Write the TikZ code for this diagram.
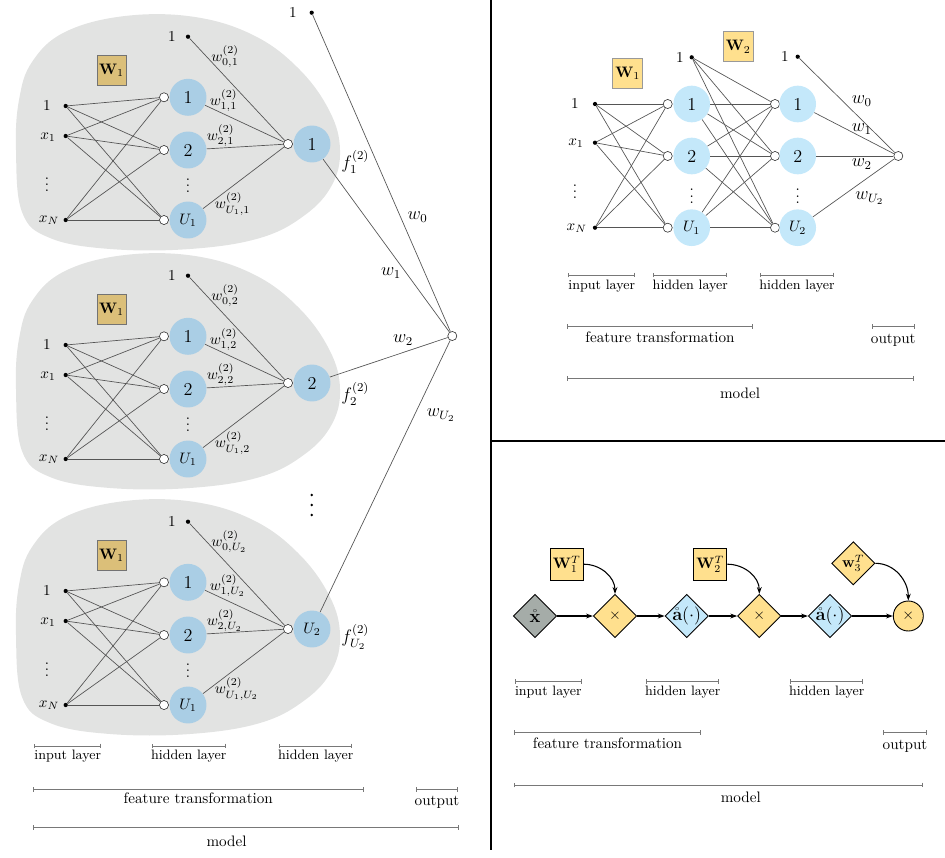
\documentclass[tikz,border=0pt]{standalone}
\usepackage{amsmath}
\usetikzlibrary{shapes.geometric,arrows.meta}
\definecolor{blobgray}{RGB}{226,227,226}
\definecolor{blueL}{RGB}{170,206,229}
\definecolor{blueTR}{RGB}{196,232,250}
\definecolor{tanW}{RGB}{219,191,121}
\definecolor{yelW}{RGB}{255,224,142}
\definecolor{grayD}{RGB}{165,172,168}
\definecolor{edgec}{RGB}{85,85,85}
\definecolor{bracketc}{RGB}{120,120,120}

\newcommand\nnblob[6]{%
\begin{scope}[shift={(0,#2)}]
 \fill[blobgray] plot[smooth cycle,tension=0.65] coordinates {(16,150) (19,100) (32,62) (65,32) (125,16) (195,17) (255,36) (300,70) (330,112) (340,150) (332,185) (305,215) (260,238) (190,249) (110,249) (50,238) (22,212)};
 \node[dotn] (#1i1) at (65.7,106) {};
 \node[dotn] (#1i2) at (65.7,136) {};
 \node[dotn] (#1i3) at (65.7,220) {};
 \node (#1l1) at (47,106) {$1$};
 \node (#1l2) at (48,137) {$x_1$};
 \node (#1l3) at (47,180) {$\vdots$};
 \node (#1l4) at (49,220) {$x_N$};
 \node[wboxL] (#1W) at (111.5,70) {$\mathbf{W}_1$};
 \node[ocirc] (#1h1) at (164,97.3) {};
 \node[ocirc] (#1h2) at (164,150) {};
 \node[ocirc] (#1h3) at (164,220) {};
 \node[bnode,font=\large] (#1b1) at (188,97.3) {1};
 \node[bnode,font=\large] (#1b2) at (188,150) {2};
 \node[bnode] (#1b3) at (188,220) {$U_1$};
 \node (#1hd) at (188,181) {$\vdots$};
 \node[dotn] (#1bias) at (188,36.7) {};
 \node (#1bl) at (172,37) {$1$};
 \node[ocirc] (#1o) at (288,144) {};
 \node[bnode] (#1out) at (312,144) {#3};
 \foreach \a in {1,2,3} {\foreach \b in {1,2,3} {\draw[edge] (#1i\a) -- (#1h\b);}}
 \draw[edge] (#1bias) -- (#1o);
 \foreach \a in {1,2,3} {\draw[edge] (#1b\a) -- (#1o);}
 \node[wl] (#1w0) at (211,56.5) {$w^{(2)}_{0,#4}$};
 \node[wl] (#1w1) at (209.5,100.5) {$w^{(2)}_{1,#4}$};
 \node[wl] (#1w2) at (206.5,135.5) {$w^{(2)}_{2,#4}$};
 \node[wl] (#1w3) at (214.5,204) {$w^{(2)}_{U_1,#4}$};
 \node[wl,font=\large] (#1f) at (341,144+#5) {$f^{(2)}_{#6}$};
\end{scope}}

\begin{document}
\begin{tikzpicture}[x=0.66pt,y=-0.66pt,
  dotn/.style={circle,fill=black,inner sep=0pt,minimum size=2.8pt},
  ocirc/.style={circle,draw=black!80,fill=white,inner sep=0pt,minimum size=6pt,line width=0.4pt},
  bnode/.style={circle,fill=blueL,inner sep=0pt,minimum size=24.4pt},
  trnode/.style={circle,fill=blueTR,inner sep=0pt,minimum size=24.2pt},
  edge/.style={draw=edgec,line width=0.45pt},
  wl/.style={anchor=west,inner sep=0pt},
  wboxL/.style={draw=black!55,fill=tanW,minimum width=19pt,minimum height=19.8pt,inner sep=0.5pt},
  wboxT/.style={draw=black!40,fill=yelW,minimum width=19.8pt,minimum height=19.8pt,inner sep=0.5pt},
  bbox/.style={draw=black,fill=yelW,minimum width=21.8pt,minimum height=21.1pt,inner sep=0.5pt,line width=0.6pt},
  dmd/.style={diamond,aspect=1,draw=black,line width=0.6pt,inner sep=0pt,minimum size=28.6pt},
  arr/.style={-{Stealth[length=4.5pt,width=3.2pt]},line width=0.7pt},
  brk/.style={draw=bracketc,line width=0.55pt,arrows={Bar[width=3pt]-Bar[width=3pt]}},
  lyr/.style={font=\small,inner sep=0pt},
  lbl/.style={inner sep=0pt},
  frame/.style={line width=1.1pt},
]
\useasboundingbox (0,0) rectangle (945,857);

% ---------------- left panel ----------------
\nnblob{A}{0}{\large 1}{1}{18}{1}
\nnblob{B}{239}{\large 2}{2}{11}{2}
\nnblob{C}{485}{$U_2$}{U_2}{8}{U_2}

\node[dotn] (obias) at (311.7,12.7) {};
\node (obl) at (293,12.7) {$1$};
\node[ocirc] (oout) at (452.3,336) {};
\draw[edge] (obias) -- (oout);
\draw[edge] (Aout) -- (oout);
\draw[edge] (Bout) -- (oout);
\draw[edge] (Cout) -- (oout);
\node[font=\large] (ow0) at (417.5,217) {$w_0$};
\node[font=\large] (ow1) at (391,273) {$w_1$};
\node[font=\large] (ow2) at (403,340) {$w_2$};
\node[font=\large] (ow3) at (441,415) {$w_{U_2}$};
\fill (311.7,495) circle[radius=1.4];
\fill (311.7,505) circle[radius=1.4];
\fill (311.7,515) circle[radius=1.4];

\draw[brk] (34.3,746) -- (101,746);
\draw[brk] (151.7,746) -- (225.7,746);
\draw[brk] (279,746) -- (352.3,746);
\draw[brk] (32.7,789.3) -- (364,789.3);
\draw[brk] (415.7,789.3) -- (458.3,789.3);
\draw[brk] (33.3,827.3) -- (458.7,827.3);
\node[lyr] (L1) at (67.7,756.5) {input layer};
\node[lyr] (L2) at (188.7,756.5) {hidden layer};
\node[lyr] (L3) at (315.7,756.5) {hidden layer};
\node[lbl] (L4) at (198.3,798.3) {feature transformation};
\node[lbl] (L5) at (437,802.3) {output};
\node[lbl] (L6) at (226.5,841.3) {model};

% ---------------- frame ----------------
\draw[frame] (491,0) -- (491,850);
\draw[frame] (491,441) -- (945,441);

% ---------------- top right panel ----------------
\node[dotn] (ti1) at (595,104) {};
\node[dotn] (ti2) at (595,142.7) {};
\node[dotn] (ti3) at (595,227.7) {};
\node (tl1) at (575,104) {$1$};
\node (tl2) at (576,143) {$x_1$};
\node (tl3) at (575,187) {$\vdots$};
\node (tl4) at (576.7,228) {$x_N$};
\node[wboxT] (tW1) at (627.7,73.3) {$\mathbf{W}_1$};
\node[wboxT] (tW2) at (738.3,46.7) {$\mathbf{W}_2$};
\node[ocirc] (th1) at (667.7,104) {};
\node[ocirc] (th2) at (667.7,156) {};
\node[ocirc] (th3) at (667.7,227.7) {};
\node[trnode,font=\large] (tb1) at (691.7,104) {1};
\node[trnode,font=\large] (tb2) at (691.7,156) {2};
\node[trnode] (tb3) at (691.7,227.7) {$U_1$};
\node (thd) at (691.7,191.7) {$\vdots$};
\node[dotn] (tbias2) at (691.7,57.3) {};
\node (tbl2) at (680,57.3) {$1$};
\node[ocirc] (tg1) at (775,104) {};
\node[ocirc] (tg2) at (775,156) {};
\node[ocirc] (tg3) at (775,227.7) {};
\node[trnode,font=\large] (tc1) at (797.7,104) {1};
\node[trnode,font=\large] (tc2) at (797.7,156) {2};
\node[trnode] (tc3) at (797.7,227.7) {$U_2$};
\node (tgd) at (797.7,191.7) {$\vdots$};
\node[dotn] (tbias3) at (797.7,56.7) {};
\node (tbl3) at (785,56.7) {$1$};
\node[ocirc] (tout) at (898.3,156) {};
\foreach \a in {1,2,3} {\foreach \b in {1,2,3} {\draw[edge] (ti\a) -- (th\b); \draw[edge] (tb\a) -- (tg\b);}}
\foreach \b in {1,2,3} {\draw[edge] (tbias2) -- (tg\b); \draw[edge] (tc\b) -- (tout);}
\draw[edge] (tbias3) -- (tout);
\node[wl,font=\large] (tw0) at (851.5,101) {$w_0$};
\node[wl,font=\large] (tw1) at (851.5,129) {$w_1$};
\node[wl,font=\large] (tw2) at (851.5,164) {$w_2$};
\node[wl,font=\large] (tw3) at (855,198) {$w_{U_2}$};

\draw[brk] (568.3,275) -- (635,275);
\draw[brk] (653.3,275) -- (727.3,275);
\draw[brk] (760,275) -- (834,275);
\draw[brk] (566.7,326.7) -- (753.3,326.7);
\draw[brk] (871.7,326.7) -- (915,326.7);
\draw[brk] (566.7,378.3) -- (914.3,378.3);
\node[lyr] (T1) at (601.7,285.8) {input layer};
\node[lyr] (T2) at (690.3,285.8) {hidden layer};
\node[lyr] (T3) at (797,285.8) {hidden layer};
\node[lbl] (T4) at (660,337.5) {feature transformation};
\node[lbl] (T5) at (893.3,340.8) {output};
\node[lbl] (T6) at (740,393.2) {model};

% ---------------- bottom right panel ----------------
\node[dmd,fill=grayD,font=\large] (bx) at (535,616) {$\mathring{\mathbf{x}}$};
\node[dmd,fill=yelW] (bm1) at (615,616) {$\times$};
\node[dmd,fill=blueTR,font=\large] (ba1) at (686.7,616) {\makebox[0pt]{$\mathring{\mathbf{a}}(\cdot)$}};
\node[dmd,fill=yelW] (bm2) at (759.3,616) {$\times$};
\node[dmd,fill=blueTR,font=\large] (ba2) at (830,616) {\makebox[0pt]{$\mathring{\mathbf{a}}(\cdot)$}};
\node[circle,draw=black,fill=yelW,minimum size=19.8pt,inner sep=0pt,line width=0.6pt] (bm3) at (908.3,616) {$\times$};
\node[bbox] (bW1) at (566.7,564.2) {$\mathbf{W}_1^T$};
\node[bbox] (bW2) at (710.3,564.2) {$\mathbf{W}_2^T$};
\node[dmd,fill=yelW] (bw3) at (853.3,563.3) {$\mathbf{w}_3^T$};
\draw[arr] (bx) -- (bm1);
\draw[arr] (bm1) -- (ba1);
\draw[arr] (ba1) -- (bm2);
\draw[arr] (bm2) -- (ba2);
\draw[arr] (ba2) -- (bm3);
\draw[arr] (bW1.east) to[out=0,in=90] (bm1.north);
\draw[arr] (bW2.east) to[out=0,in=90] (bm2.north);
\draw[arr] (bw3.east) to[out=0,in=90] (bm3.north);

\draw[brk] (515,681.7) -- (581.7,681.7);
\draw[brk] (646,681.7) -- (719.3,681.7);
\draw[brk] (790,681.7) -- (863.3,681.7);
\draw[brk] (514.3,732.3) -- (700.7,732.3);
\draw[brk] (883.3,732.3) -- (926.7,732.3);
\draw[brk] (514.3,785) -- (923.3,785);
\node[lyr] (R1) at (548.3,692.5) {input layer};
\node[lyr] (R2) at (682.7,692.5) {hidden layer};
\node[lyr] (R3) at (826.7,692.5) {hidden layer};
\node[lbl] (R4) at (607.5,743.3) {feature transformation};
\node[lbl] (R5) at (905,745.8) {output};
\node[lbl] (R6) at (740.8,797.5) {model};
\end{tikzpicture}
\end{document}
